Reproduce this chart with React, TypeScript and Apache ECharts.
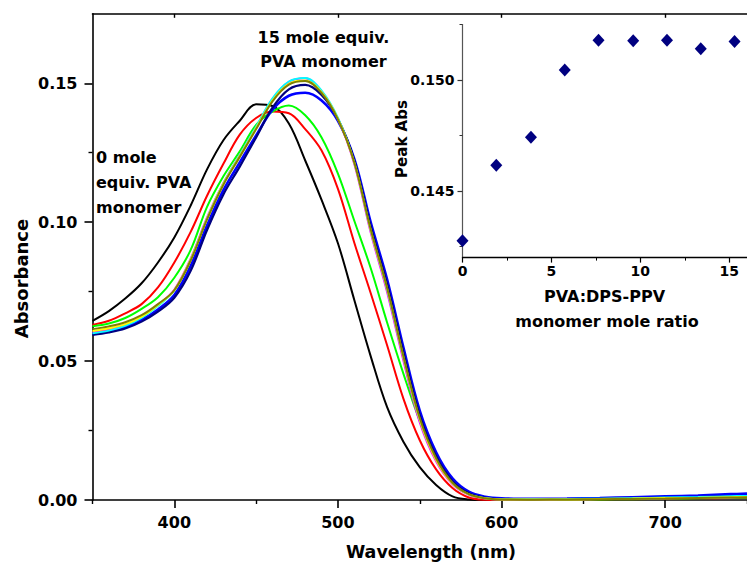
import React, { useEffect, useRef } from "react";
import * as echarts from "echarts";

// ---- Main spectra (Absorbance vs wavelength, nm) ----
const wavelengths = [350, 360, 370, 380, 390, 400, 410, 420, 430, 440, 450, 460, 470, 480, 490, 500, 510, 520, 530, 540, 550, 560, 570, 580, 590, 600, 620, 640, 660, 680, 700, 720, 740, 750];

const absBlack = [0.0645, 0.068, 0.0725, 0.078, 0.0855, 0.0945, 0.106, 0.119, 0.1295, 0.1365, 0.1424, 0.1418, 0.1355, 0.1222, 0.108, 0.0924, 0.072, 0.0518, 0.0335, 0.021, 0.0118, 0.0054, 0.0013, 0.0002, 0.0, 0.0, 0.0, 0.0001, 0.0002, 0.0003, 0.0005, 0.0006, 0.0008, 0.0009];
const absRed = [0.063, 0.0645, 0.0672, 0.0705, 0.0765, 0.0855, 0.0965, 0.1095, 0.121, 0.1315, 0.1375, 0.1398, 0.1392, 0.1335, 0.1258, 0.112, 0.0926, 0.0745, 0.0558, 0.0365, 0.0215, 0.011, 0.0043, 0.0009, 0.0001, 0.0, 0.0, 0.0001, 0.0002, 0.0003, 0.0004, 0.0006, 0.0007, 0.0008];
const absGreen = [0.0625, 0.0635, 0.0655, 0.0688, 0.073, 0.08, 0.09, 0.1055, 0.1165, 0.1255, 0.135, 0.1398, 0.142, 0.1385, 0.1305, 0.1175, 0.1005, 0.0835, 0.064, 0.0455, 0.0285, 0.0152, 0.0065, 0.0022, 0.0006, 0.0001, 0.0, 0.0001, 0.0002, 0.0003, 0.0005, 0.0006, 0.0008, 0.0009];
const absBlue = [0.0598, 0.0608, 0.0622, 0.0648, 0.0686, 0.0738, 0.0842, 0.0988, 0.1115, 0.1215, 0.1312, 0.1405, 0.1455, 0.1466, 0.1438, 0.1365, 0.1228, 0.1, 0.0795, 0.055, 0.0322, 0.0172, 0.0078, 0.003, 0.0012, 0.0006, 0.0004, 0.0005, 0.0007, 0.001, 0.0013, 0.0016, 0.0021, 0.0023];
const absNavy = [0.0594, 0.0603, 0.0617, 0.0642, 0.0678, 0.0728, 0.0825, 0.0972, 0.11, 0.12, 0.1305, 0.1412, 0.1478, 0.1494, 0.1458, 0.1372, 0.1222, 0.0985, 0.0778, 0.0532, 0.0305, 0.0158, 0.0068, 0.0024, 0.0008, 0.0003, 0.0002, 0.0003, 0.0004, 0.0006, 0.0008, 0.001, 0.0013, 0.0014];
const absMagenta = [0.0603, 0.0614, 0.063, 0.0658, 0.0702, 0.0758, 0.087, 0.1018, 0.1142, 0.1242, 0.1342, 0.1444, 0.1505, 0.1518, 0.1472, 0.1372, 0.1208, 0.0962, 0.0748, 0.05, 0.0278, 0.0138, 0.0056, 0.0018, 0.0005, 0.0001, 0.0001, 0.0002, 0.0003, 0.0004, 0.0006, 0.0007, 0.0009, 0.001];
const absCyan = [0.06, 0.061, 0.0627, 0.0655, 0.0698, 0.0754, 0.0866, 0.1014, 0.114, 0.1242, 0.1344, 0.1446, 0.1506, 0.1519, 0.1474, 0.1376, 0.1214, 0.097, 0.0758, 0.0512, 0.0288, 0.0146, 0.006, 0.002, 0.0007, 0.0003, 0.0003, 0.0004, 0.0005, 0.0007, 0.0009, 0.0011, 0.0014, 0.0015];
const absYellow = [0.0608, 0.0618, 0.0633, 0.066, 0.0702, 0.0755, 0.0865, 0.1012, 0.1138, 0.1238, 0.1338, 0.1438, 0.1498, 0.151, 0.1468, 0.1372, 0.1215, 0.0972, 0.0762, 0.0515, 0.029, 0.0145, 0.006, 0.002, 0.0006, 0.0002, 0.0002, 0.0002, 0.0004, 0.0005, 0.0007, 0.0008, 0.001, 0.0011];
const absOlive = [0.0615, 0.0625, 0.064, 0.0665, 0.0705, 0.0755, 0.0862, 0.101, 0.1135, 0.1235, 0.1335, 0.1435, 0.1495, 0.1508, 0.1465, 0.137, 0.1215, 0.0975, 0.0765, 0.0518, 0.0295, 0.015, 0.0062, 0.0021, 0.0006, 0.0002, 0.0001, 0.0002, 0.0003, 0.0004, 0.0005, 0.0007, 0.0009, 0.001];

// ---- Inset: peak absorbance vs PVA:DPS-PPV monomer mole ratio ----
const moleRatio = [0, 1.9, 3.85, 5.75, 7.65, 9.6, 11.5, 13.4, 15.3];
const peakAbs = [0.14276, 0.14616, 0.14742, 0.15045, 0.15179, 0.15177, 0.15179, 0.15141, 0.15173];

// ---- Tick values ----
const mainXLabels = [400, 500, 600, 700];
const mainXMinor = [350, 450, 550, 650, 750];
const mainYLabels = [0, 0.05, 0.1, 0.15];
const mainYMinor = [0.025, 0.075, 0.125];
const insetXLabels = [0, 5, 10, 15];
const insetXMinor = [2.5, 7.5, 12.5];
const insetYLabels = [0.145, 0.15];
const insetYMinor = [0.1425, 0.1475, 0.1525];

const FONT = "'DejaVu Sans', sans-serif";

export default function App() {
  const ref = useRef<HTMLDivElement>(null);

  useEffect(() => {
    if (!ref.current) return;
    const chart = echarts.init(ref.current, null, { renderer: "svg" });

    const curves = [
      { name: "0", data: absBlack, color: "#000000", width: 2 },
      { name: "2", data: absRed, color: "#ff0000", width: 2 },
      { name: "4", data: absGreen, color: "#00ff00", width: 2 },
      { name: "6", data: absBlue, color: "#0000ff", width: 2.6 },
      { name: "8", data: absNavy, color: "#000080", width: 2.2 },
      { name: "10", data: absMagenta, color: "#ff00ff", width: 1.8 },
      { name: "12", data: absCyan, color: "#00ffff", width: 1.8 },
      { name: "13.5", data: absYellow, color: "#ffff00", width: 2 },
      { name: "15.5", data: absOlive, color: "#808000", width: 2 },
    ];

    const lineSeries = curves.map((c) => ({
      type: "line",
      name: c.name,
      xAxisIndex: 0,
      yAxisIndex: 0,
      data: wavelengths.map((w, i) => [w, c.data[i]]),
      showSymbol: false,
      smooth: 0.35,
      lineStyle: { color: c.color, width: c.width },
      itemStyle: { color: c.color },
      silent: true,
      z: 2,
    }));

    const lbl = (size: number) => ({
      fontFamily: FONT,
      fontWeight: "bold",
      fontSize: size,
      color: "#000",
    });

    const noLine = { show: false };
    const blackLine = (w: number, c = "#000") => ({ show: true, onZero: false, lineStyle: { color: c, width: w } });

    const option: any = {
      animation: false,
      backgroundColor: "#fff",
      grid: [
        { left: 92.5, top: 13.8, width: 660, height: 486.2, containLabel: false },
        { left: 462.5, top: 24.5, width: 290.2, height: 233.1, containLabel: false },
      ],
      xAxis: [
        {
          gridIndex: 0, type: "value", min: 350, max: 750, position: "bottom",
          axisLine: blackLine(1.6),
          axisTick: { show: true, customValues: mainXLabels, length: 8, lineStyle: { color: "#000", width: 1.6 } },
          axisLabel: { show: true, customValues: mainXLabels, margin: 14, formatter: (v: number) => String(v), ...lbl(16) },
          splitLine: { show: false },
        },
        {
          gridIndex: 0, type: "value", min: 350, max: 750, position: "bottom",
          axisLine: noLine,
          axisTick: { show: true, customValues: mainXMinor, length: 4, lineStyle: { color: "#000", width: 1.4 } },
          axisLabel: { show: false },
          splitLine: { show: false },
        },
        {
          gridIndex: 0, type: "value", min: 350, max: 750, position: "top",
          axisLine: blackLine(1.6),
          axisTick: { show: true, inside: true, customValues: mainXLabels, length: 4, lineStyle: { color: "#000", width: 1.4 } },
          axisLabel: { show: false },
          splitLine: { show: false },
        },
        {
          gridIndex: 1, type: "value", min: 0, max: 16, position: "bottom",
          axisLine: blackLine(1.3),
          axisTick: { show: true, customValues: insetXLabels, length: 5, lineStyle: { color: "#000", width: 1.2 } },
          axisLabel: { show: true, customValues: insetXLabels, margin: 6, formatter: (v: number) => String(v), ...lbl(14) },
          splitLine: { show: false },
        },
        {
          gridIndex: 1, type: "value", min: 0, max: 16, position: "bottom",
          axisLine: noLine,
          axisTick: { show: true, customValues: insetXMinor, length: 3, lineStyle: { color: "#000", width: 1 } },
          axisLabel: { show: false },
          splitLine: { show: false },
        },
      ],
      yAxis: [
        {
          gridIndex: 0, type: "value", min: 0, max: 0.175, position: "left",
          axisLine: blackLine(1.6),
          axisTick: { show: true, customValues: mainYLabels, length: 8, lineStyle: { color: "#000", width: 1.6 } },
          axisLabel: { show: true, customValues: mainYLabels, margin: 15, formatter: (v: number) => v.toFixed(2), ...lbl(16) },
          splitLine: { show: false },
        },
        {
          gridIndex: 0, type: "value", min: 0, max: 0.175, position: "left",
          axisLine: noLine,
          axisTick: { show: true, customValues: mainYMinor, length: 4, lineStyle: { color: "#000", width: 1.4 } },
          axisLabel: { show: false },
          splitLine: { show: false },
        },
        {
          gridIndex: 1, type: "value", min: 0.142, max: 0.1525, position: "left",
          axisLine: blackLine(1.2, "#555"),
          axisTick: { show: true, customValues: insetYLabels, length: 5, lineStyle: { color: "#333", width: 1.2 } },
          axisLabel: { show: true, customValues: insetYLabels, margin: 8, formatter: (v: number) => v.toFixed(3), ...lbl(14) },
          splitLine: { show: false },
        },
        {
          gridIndex: 1, type: "value", min: 0.142, max: 0.1525, position: "left",
          axisLine: noLine,
          axisTick: { show: true, customValues: insetYMinor, length: 3, lineStyle: { color: "#333", width: 1 } },
          axisLabel: { show: false },
          splitLine: { show: false },
        },
      ],
      series: [
        ...lineSeries,
        {
          type: "scatter",
          xAxisIndex: 3,
          yAxisIndex: 2,
          data: moleRatio.map((r, i) => [r, peakAbs[i]]),
          symbol: "diamond",
          symbolSize: [12, 13],
          itemStyle: { color: "#000080", opacity: 1 },
          silent: true,
          z: 5,
        },
      ],
      graphic: [
        { type: "text", x: 21, y: 278.5, rotation: Math.PI / 2, style: { text: "Absorbance", font: `bold 18px ${FONT}`, fill: "#000", textAlign: "center", textVerticalAlign: "middle" } },
        { type: "text", x: 431, y: 551.5, style: { text: "Wavelength (nm)", font: `bold 17.5px ${FONT}`, fill: "#000", textAlign: "center", textVerticalAlign: "middle" } },
        { type: "text", x: 323.5, y: 37, style: { text: "15 mole equiv.", font: `bold 16px ${FONT}`, fill: "#000", textAlign: "center", textVerticalAlign: "middle" } },
        { type: "text", x: 323.5, y: 61, style: { text: "PVA monomer", font: `bold 16px ${FONT}`, fill: "#000", textAlign: "center", textVerticalAlign: "middle" } },
        { type: "text", x: 96, y: 157.5, style: { text: "0 mole", font: `bold 16px ${FONT}`, fill: "#000", textAlign: "left", textVerticalAlign: "middle" } },
        { type: "text", x: 96, y: 182.5, style: { text: "equiv. PVA", font: `bold 16px ${FONT}`, fill: "#000", textAlign: "left", textVerticalAlign: "middle" } },
        { type: "text", x: 96, y: 207, style: { text: "monomer", font: `bold 16px ${FONT}`, fill: "#000", textAlign: "left", textVerticalAlign: "middle" } },
        { type: "text", x: 401.7, y: 139, rotation: Math.PI / 2, style: { text: "Peak Abs", font: `bold 15px ${FONT}`, fill: "#000", textAlign: "center", textVerticalAlign: "middle" } },
        { type: "text", x: 604.5, y: 296, style: { text: "PVA:DPS-PPV", font: `bold 16px ${FONT}`, fill: "#000", textAlign: "center", textVerticalAlign: "middle" } },
        { type: "text", x: 607, y: 321, style: { text: "monomer mole ratio", font: `bold 16px ${FONT}`, fill: "#000", textAlign: "center", textVerticalAlign: "middle" } },
      ],
    };

    chart.setOption(option);
    return () => chart.dispose();
  }, []);

  return <div ref={ref} style={{ position: "fixed", left: 0, top: 0, width: 747, height: 563 }} />;
}
